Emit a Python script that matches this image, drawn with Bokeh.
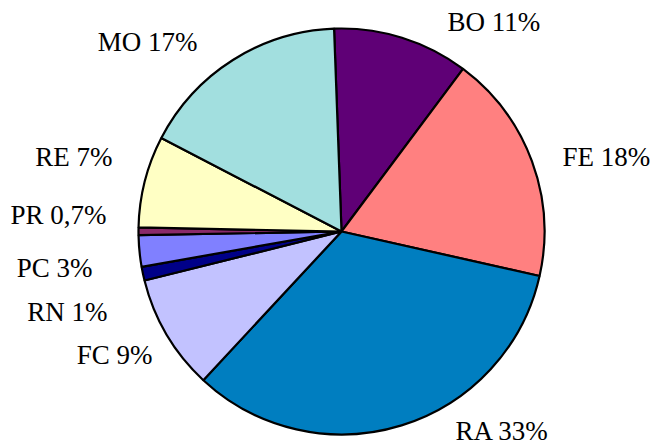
import math
from bokeh.plotting import figure
from bokeh.models import ColumnDataSource, Range1d
from bokeh.core.properties import value
from bokeh.embed import file_html
from bokeh.resources import INLINE

# ---- data ----
categories = ["BO", "FE", "RA", "FC", "RN", "PC", "PR", "RE", "MO"]
shares = [10.8, 18.3, 33.4, 9.2, 1.1, 2.5, 0.6, 7.3, 16.8]
label_texts = ["BO 11%", "FE 18%", "RA 33%", "FC 9%", "RN 1%", "PC 3%",
               "PR 0,7%", "RE 7%", "MO 17%"]

# ---- style ----
colors = ["#5F0076", "#FF8080", "#007EC0", "#C2C2FF", "#000088",
          "#8080FF", "#8A2A6A", "#FFFFC4", "#A2DFDF"]
W, H = 650, 446
CX, CY, R = 341, 446 - 231, 203     # pie centre and radius (px units)
START_DEG = 92.1                    # angle of first slice edge
# label anchor offsets from pie centre (px), alignment
label_off = [(106, 210), (221, 75), (114, -199), (-189, -123), (-234, -80),
             (-249, -36), (-235, 17), (-229, 75), (-144, 190)]
label_align = ["left", "left", "left", "right", "right", "right", "right",
               "right", "right"]

total = sum(shares)
starts, ends = [], []
cum = 0.0
for s in shares:
    a0 = START_DEG - cum / total * 360
    cum += s
    a1 = START_DEG - cum / total * 360
    starts.append(math.radians(a1))
    ends.append(math.radians(a0))

src = ColumnDataSource(dict(cat=categories, start=starts, end=ends, color=colors))

p = figure(width=W, height=H, output_backend="svg", toolbar_location=None,
           x_range=Range1d(0, W), y_range=Range1d(0, H), min_border=0,
           match_aspect=False)
p.axis.visible = False
p.grid.visible = False
p.outline_line_color = None
p.background_fill_color = "white"

p.wedge(x=CX, y=CY, radius=R, start_angle="start", end_angle="end",
        direction="anticlock", fill_color="color", line_color="black",
        line_width=2.2, source=src)

lx = [CX + o[0] for o in label_off]
ly = [CY + o[1] for o in label_off]
lsrc = ColumnDataSource(dict(x=lx, y=ly, t=label_texts, a=label_align))
p.text(x="x", y="y", text="t", text_align="a", text_baseline="alphabetic",
       text_font=value("Liberation Serif"), text_font_size="27px",
       text_color="black", source=lsrc)

open("out.html", "w").write(file_html(p, INLINE))
